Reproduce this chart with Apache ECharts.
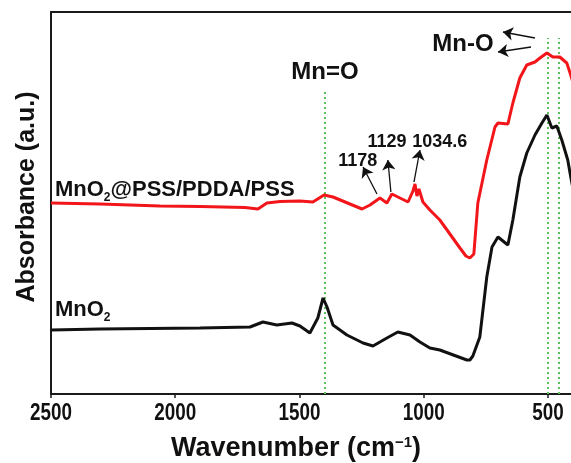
<!DOCTYPE html>
<html><head><meta charset="utf-8">
<script src="https://cdn.jsdelivr.net/npm/echarts@6/dist/echarts.min.js"></script>
<style>html,body{margin:0;padding:0;background:#fff}#c{width:571px;height:463px}</style>
</head><body><div id="c"></div>
<script>
// x tick labels
const xTicks = [2500, 2000, 1500, 1000, 500];

// MnO2@PSS/PDDA/PSS (red)
const redWn  = [2500,2303,2061,1900,1719,1667,1631,1578,1498,1446,1401,1365,1248,1216,1176,1148,1128,1063,1043,1035,1027,1019,1003,975,935,854,830,814,798,782,746,713,701,661,641,613,585,552,532,504,480,452,424,408,395];
const redAbs = [191,190,188,187.5,186.5,185,191,192.5,193,192,199,197,185,189,196,191,200,192,203,210,198,205,192,184,174,146,138,136,140,191,234,267,271,270,291,316,329,332,336,341,337,337,331,319,308];

// MnO2 (black)
const blackWn  = [2500,2303,1900,1699,1647,1591,1530,1498,1458,1426,1405,1389,1365,1309,1244,1204,1148,1104,1055,1015,975,935,826,814,802,774,746,725,701,661,641,613,585,552,524,504,484,464,444,420,408,395];
const blackAbs = [64,65,66,67,72,69,71,68,61,76,96,87,69,59,51,48,56,62,59,52,46,44,34,34,38,57,117,147,157,149,174,217,241,259,271,279,266,268,254,234,217,200];

// green guide lines
const guideWn  = [1400, 500, 456];
const guideTop = [304, 356, 356];

// annotation arrows [fromWn, fromAbs] -> [toWn, toAbs]
const arrowFrom = [[552,356],[568,347],[1188,200],[1132,202],[1039,212]];
const arrowTo   = [[681,362],[701,342],[1244,227],[1144,234],[1015,244]];

// annotation texts and anchors (data units)
const annText = ['Mn=O','Mn-O','1178','1129','1034.6'];
const annWn   = [1397, 842, 1265, 1148, 935];
const annAbs  = [322, 350, 233, 252, 252];

// series name labels
const seriesNames = ['MnO2@PSS/PDDA/PSS','MnO2'];
const nameWn  = [2484, 2484];
const nameAbs = [204, 84];

const FONT = '"Liberation Sans", Arial, Helvetica, sans-serif';
const zip = (a,b)=>a.map((v,i)=>[v,b[i]]);
const AX = {color:'#1a1a1a', width:2};

const chart = echarts.init(document.getElementById('c'), null, {renderer:'canvas'});
chart.setOption({
  animation:false,
  grid:{left:51, right:0, top:12, bottom:69, show:false},
  xAxis:[
   {type:'value', inverse:true, min:407, max:2500, position:'bottom',
    axisLine:{show:true, onZero:false, lineStyle:AX},
    axisTick:{show:true, customValues:xTicks, length:4, lineStyle:{color:'#1a1a1a', width:1.5}},
    axisLabel:{show:false}, splitLine:{show:false}},
   {type:'value', inverse:true, min:407, max:2500, position:'top',
    axisLine:{show:true, onZero:false, lineStyle:AX},
    axisTick:{show:false}, axisLabel:{show:false}, splitLine:{show:false}}
  ],
  yAxis:{type:'value', min:0, max:382,
    axisLine:{show:true, onZero:false, lineStyle:AX},
    axisTick:{show:false}, axisLabel:{show:false}, splitLine:{show:false}},
  series:[
    {type:'lines', coordinateSystem:'cartesian2d', z:1, silent:true,
     data: guideWn.map((w,i)=>({coords:[[w,0],[w,guideTop[i]]]})),
     lineStyle:{color:'#5cc05c', width:2, type:[2,3], opacity:1}},
    {type:'line', name:seriesNames[0], data:zip(redWn,redAbs), showSymbol:false, z:3,
     lineStyle:{color:'#f2161a', width:3}},
    {type:'line', name:seriesNames[1], data:zip(blackWn,blackAbs), showSymbol:false, z:3,
     lineStyle:{color:'#111', width:3}},
    {type:'lines', coordinateSystem:'cartesian2d', z:4, silent:true,
     symbol:['none','arrow'], symbolSize:10,
     data: arrowFrom.map((f,i)=>({coords:[f, arrowTo[i]]})),
     lineStyle:{color:'#111', width:1.3, opacity:1}}
  ]
});

const px = (w,v)=>chart.convertToPixel({gridIndex:0},[w,v]);
const annSize = t => (t.startsWith('Mn') ? 24 : 18);
const graphics = [];
// condensed tick labels
xTicks.forEach(t=>{
  const p = px(t, 0);
  graphics.push({type:'text', x:p[0], y:p[1]+20, scaleX:0.82, z:10,
    style:{text:String(t), fontFamily:FONT, fontWeight:'bold', fontSize:23, fill:'#111', textAlign:'center', textVerticalAlign:'middle'}});
});
annText.forEach((t,i)=>{
  const p = px(annWn[i], annAbs[i]);
  graphics.push({type:'text', x:p[0], y:p[1], z:10,
    style:{text:t, fontFamily:FONT, fontWeight:'bold', fontSize:annSize(t), fill:'#111', textAlign:'center', textVerticalAlign:'middle'}});
});
const richName = {
  b:{fontFamily:FONT, fontWeight:'bold', fontSize:22, fill:'#111', color:'#111'},
  s:{fontFamily:FONT, fontWeight:'bold', fontSize:12, fill:'#111', color:'#111', verticalAlign:'bottom', padding:[0,0,-3,0]}
};
seriesNames.forEach((n,i)=>{
  const p = px(nameWn[i], nameAbs[i]);
  const parts = n.split('2');
  const txt = '{b|' + parts[0] + '}{s|2}' + (parts[1] ? '{b|' + parts[1] + '}' : '');
  graphics.push({type:'text', x:p[0], y:p[1], z:10,
    style:{text:txt, rich:richName, textAlign:'left', textVerticalAlign:'middle'}});
});
graphics.push({type:'text', x:296, y:449, z:10,
  style:{text:'{t|Wavenumber (cm}{p|−1}{t|)}', textAlign:'center', textVerticalAlign:'middle',
    rich:{t:{fontFamily:FONT, fontWeight:'bold', fontSize:27, fill:'#111', color:'#111'},
          p:{fontFamily:FONT, fontWeight:'bold', fontSize:15, fill:'#111', color:'#111', verticalAlign:'top'}}}});
graphics.push({type:'text', x:27, y:197, rotation:Math.PI/2, z:10,
  style:{text:'Absorbance (a.u.)', fontFamily:FONT, fontWeight:'bold', fontSize:25, fill:'#111', textAlign:'center', textVerticalAlign:'middle'}});
chart.setOption({graphic:graphics});
</script></body></html>
